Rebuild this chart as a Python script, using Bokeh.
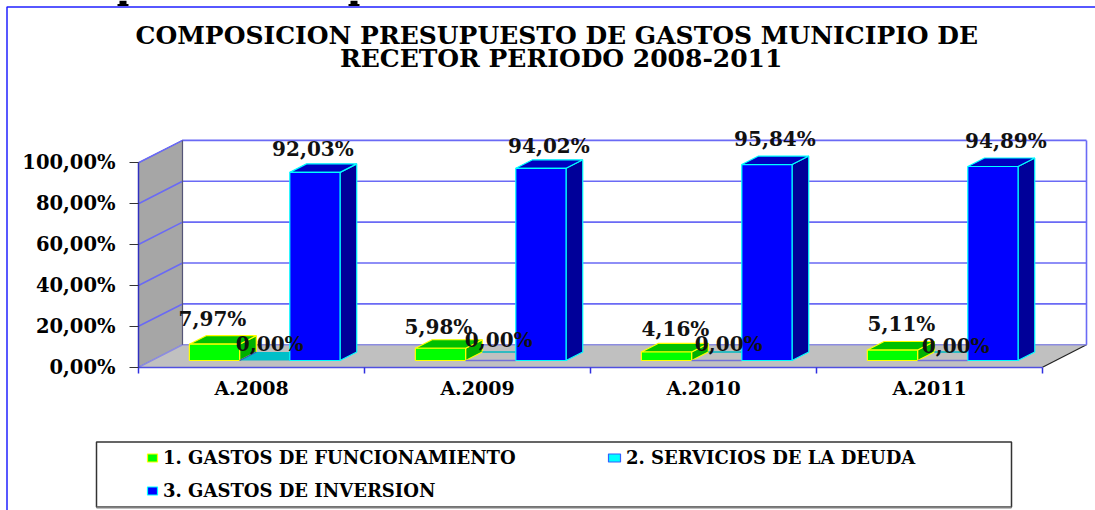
from bokeh.plotting import figure
from bokeh.models import Range1d, FixedTicker
from bokeh.core.properties import value
from bokeh.embed import file_html
from bokeh.resources import INLINE

categories = ["A.2008", "A.2009", "A.2010", "A.2011"]
funcionamiento = [7.97, 5.98, 4.16, 5.11]
deuda = [0.00, 0.00, 0.00, 0.00]
inversion = [92.03, 94.02, 95.84, 94.89]
series_names = ["1. GASTOS DE FUNCIONAMIENTO", "2. SERVICIOS DE LA DEUDA", "3. GASTOS DE INVERSION"]
title_lines = ["COMPOSICION  PRESUPUESTO DE GASTOS MUNICIPIO  DE", "RECETOR PERIODO  2008-2011"]
y_ticks = [0, 20, 40, 60, 80, 100]
y_labels = ["0,00%", "20,00%", "40,00%", "60,00%", "80,00%", "100,00%"]

W, H = 1095, 510
PX0, PY0 = 138.0, 366.7  # screen position of category 0, value 0
CAT_W, PCT_H = 226.0, 2.044
DX, DY = 44.0, 22.4    # screen depth of the box

def sx(px):
    return (px - PX0) / CAT_W
def sy(py):
    return (PY0 - py) / PCT_H
def P(u, v, d=0.0):
    return (u + d * DX / CAT_W, v + d * DY / PCT_H)

SERIF = value("DejaVu Serif")
GRID = "#6A6AF5"
p = figure(width=W, height=H, output_backend="svg", toolbar_location=None,
           x_range=Range1d(sx(0), sx(W)), y_range=Range1d(sy(H), sy(0)),
           min_border=0, outline_line_color=None, border_fill_color="white",
           background_fill_color="white")
p.xgrid.visible = False
p.ygrid.visible = False

def poly(points, fill, line, width=1.0):
    p.patch([a for a, b in points], [b for a, b in points], fill_color=fill, line_color=line, line_width=width)
def seg(points, color, width=1.0):
    p.line([a for a, b in points], [b for a, b in points], line_color=color, line_width=width)

# walls and floor
n = len(categories)
poly([P(0, 0), P(0, 100), P(0, 100, 1), P(0, 0, 1)], "#A6A6A6", "#5A5AC8")
poly([P(0, 0), P(n, 0), P(n, 0, 1), P(0, 0, 1)], "#C0C0C0", None)
seg([P(n, 0), P(n, 0, 1)], "#222222", 1.2)
for t in y_ticks:
    seg([P(0, t), P(0, t, 1), P(n, t, 1)], GRID if t else "#8C8CE0", 1.6)
seg([P(n, 0, 1), P(n, 100, 1)], GRID, 1.6)
seg([P(0, 0, 1), P(0, 100, 1)], "#555577", 1.2)

# bars
F0, F1 = 0.30, 0.68
GAP = 1.5
BAR = 1.0 / (3 + GAP)
styles = [("#00FF00", "#00C000", "#00B000", "#FFFF00"),
          ("#00FFFF", "#00BFC8", "#00A0A8", "#00FFFF"),
          ("#0000FF", "#0000C0", "#000099", "#00FFFF")]
all_series = [funcionamiento, deuda, inversion]
for i in range(n):
    for k, vals in enumerate(all_series):
        v = vals[i]
        a = i + (GAP / 2 + k) * BAR
        b = a + BAR
        front, top, side, edge = styles[k]
        if k == 1 and i > 0:
            # the empty bars of the later years show only as two thin lines on the floor
            seg([P(a, v, F1), P(b, v, F1)], "#00B8C0", 1.6)
            seg([P(a, v, F0), P(b, v, F0)], "#7070D8", 1.6)
            continue
        if k == 1:
            poly([P(a, v, F0), P(b, v, F0), P(b, v, F1), P(a, v, F1)], top, None)
            seg([P(a, v, F0), P(a, v, F1)], "#3050C0", 1.2)
            continue
        poly([P(b, 0, F0), P(b, 0, F1), P(b, v, F1), P(b, v, F0)], side, edge, 1.2)
        poly([P(a, v, F0), P(b, v, F0), P(b, v, F1), P(a, v, F1)], top, edge, 1.2)
        poly([P(a, 0, F0), P(b, 0, F0), P(b, v, F0), P(a, v, F0)], front, edge, 1.2)

# value labels: nudges from the bar-top anchor (screen px)
nudge_x = [[-2, 5, -2], [-2, 8, 8], [9, 12, 8], [9, 13, 13]]
nudge_y = [[-24.7, -16.7, -23], [-21, -20, -22], [-22.5, -16.7, -26], [-26.3, -14.3, -26]]
lab_x, lab_y, lab_t = [], [], []
for k, vals in enumerate(all_series):
    for i in range(n):
        v = vals[i]
        u = i + (GAP / 2 + k + 0.5) * BAR
        x, y = P(u, v, F0)
        lab_x.append(x + nudge_x[i][k] / CAT_W)
        lab_y.append(y - nudge_y[i][k] / PCT_H)
        lab_t.append(f"{v:.2f}%".replace(".", ","))
p.text(lab_x, lab_y, text=lab_t, text_font=SERIF, text_font_style="bold", text_font_size="20px",
       text_color="#111111", text_align="center", text_baseline="middle")

# title
p.text([sx(565), sx(565)], [sy(35), sy(58)], text=title_lines, text_font=SERIF, text_font_style="bold",
       text_font_size="25px", text_color="#000000", text_align="center", text_baseline="middle")

# legend
p.quad(left=[sx(96)], right=[sx(1011)], top=[sy(441.5)], bottom=[sy(506.5)], fill_color="white", line_color="#333333", line_width=1.5)
p.line([sx(96), sx(1011)], [sy(507), sy(507)], line_color="#808080", line_width=2)
leg_x = [147, 608, 147]
leg_y = [457, 457, 490]
leg_w = [10, 12, 10]
for k, name in enumerate(series_names):
    front, _, _, edge = styles[k]
    p.quad(left=[sx(leg_x[k])], right=[sx(leg_x[k] + leg_w[k])], top=[sy(leg_y[k] - 3.5)], bottom=[sy(leg_y[k] + 4.5)],
           fill_color=front, line_color=edge if k != 1 else "#3060FF", line_width=1.2)
    p.text([sx(leg_x[k] + leg_w[k] + 5.5)], [sy(leg_y[k])], text=[name], text_font=SERIF, text_font_style="bold",
           text_font_size="18px", text_color="#000000", text_align="left", text_baseline="middle")

# page frame, and the two letter feet left over from the cropped heading above it
p.line([sx(6.5), sx(6.5), sx(1095)], [sy(510), sy(6.5), sy(6.5)], line_color="#2020FF", line_width=1.5)
foot_left = [119.0, 350.0]
p.quad(left=[sx(x) for x in foot_left], right=[sx(x + 7) for x in foot_left],
       top=[sy(0)] * 2, bottom=[sy(5)] * 2, fill_color="#000000", line_color=None)
p.quad(left=[sx(x - 2) for x in foot_left], right=[sx(x + 9) for x in foot_left],
       top=[sy(3.5)] * 2, bottom=[sy(5.5)] * 2, fill_color="#000000", line_color=None)

# axes
ya = p.yaxis[0]
ya.fixed_location = 0
ya.bounds = (0, 100)
ya.ticker = FixedTicker(ticks=y_ticks)
ya.major_label_overrides = dict(zip(y_ticks, y_labels))
ya.major_label_text_font = "DejaVu Serif"
ya.major_label_text_font_style = "bold"
ya.major_label_text_font_size = "19.5px"
ya.major_label_text_color = "#000000"
ya.major_tick_in = 0
ya.major_tick_out = 9
ya.major_tick_line_color = "#333333"
ya.minor_tick_line_color = None
ya.axis_line_color = "#3030C0"
ya.axis_line_width = 1.5
ya.major_label_standoff = 14

xa = p.xaxis[0]
xa.fixed_location = 0
xa.bounds = (0, n)
centres = [i + 0.5 for i in range(n)]
xa.ticker = FixedTicker(ticks=centres, minor_ticks=list(range(n + 1)))
xa.major_label_overrides = dict(zip(centres, categories))
xa.major_label_text_font = "DejaVu Serif"
xa.major_label_text_font_style = "bold"
xa.major_label_text_font_size = "19px"
xa.major_label_text_color = "#000000"
xa.major_tick_line_color = None
xa.major_tick_in = 0
xa.major_tick_out = 0
xa.major_label_standoff = 4
xa.minor_tick_in = 0
xa.minor_tick_out = 6
xa.minor_tick_line_color = "#3030E0"
xa.minor_tick_line_width = 1.5
xa.axis_line_color = "#5050E0"
xa.axis_line_width = 1.5

open("out.html", "w").write(file_html(p, INLINE))
